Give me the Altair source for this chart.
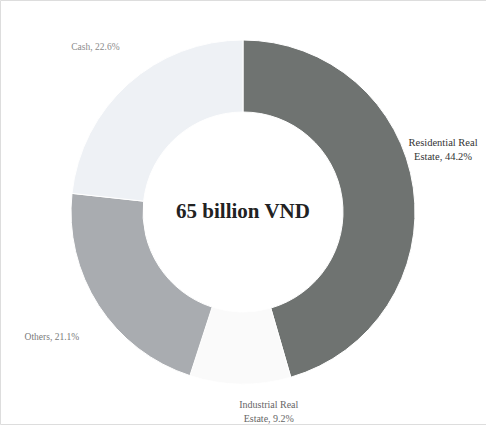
import math
import altair as alt
import pandas as pd

categories = ["Residential Real Estate", "Industrial Real Estate", "Others", "Cash"]
values = [44.2, 9.2, 21.1, 22.6]
label_lines = [
    ["Residential Real", "Estate, 44.2%"],
    ["Industrial Real", "Estate, 9.2%"],
    ["Others, 21.1%"],
    ["Cash, 22.6%"],
]
colors = ["#6f7371", "#fafafa", "#a9acb0", "#eef1f5"]
center_text = "65 billion VND"

df = pd.DataFrame({
    "category": categories,
    "value": values,
    "order": list(range(len(categories))),
    "label": label_lines,
})
total = float(sum(values))

base = alt.Chart(df).encode(
    theta=alt.Theta("value:Q", stack=True),
    order=alt.Order("order:Q"),
)

arcs = base.mark_arc(innerRadius=100, outerRadius=172, stroke="#ffffff", strokeWidth=1).encode(
    color=alt.Color("category:N", scale=alt.Scale(domain=categories, range=colors), legend=None)
)

font = "Liberation Serif"

lab_base = alt.Chart(df).transform_window(
    cum="sum(value)", sort=[alt.SortField("order")], frame=[None, 0]
).transform_calculate(
    mid="datum.cum - datum.value / 2"
)

def label_layer(cat, radius, dx, dy, color, size, weight="normal"):
    return lab_base.transform_filter(alt.datum.category == cat).mark_text(
        radius=radius, dx=dx, dy=dy, font=font, fontSize=size, color=color,
        fontWeight=weight, align="center", baseline="middle", lineHeight=14
    ).encode(
        theta=alt.Theta("mid:Q", scale=alt.Scale(domain=[0, total], range=[0, 2 * math.pi])),
        text="label",
    )

lab_res = label_layer("Residential Real Estate", 200, 2, -41, "#333333", 10.5)
lab_ind = label_layer("Industrial Real Estate", 200, 29, -7, "#666666", 10)
lab_oth = label_layer("Others", 230, 2, 0, "#7a7a7a", 9.5)
lab_cash = label_layer("Cash", 221, 0, 0, "#8a8a8a", 9.5)

center = alt.Chart(pd.DataFrame({"t": [center_text]})).mark_text(
    font=font, fontSize=21, fontWeight="bold", color="#222222"
).encode(text="t:N", x=alt.value(243), y=alt.value(212))

chart = alt.layer(arcs, lab_res, lab_ind, lab_oth, lab_cash, center).properties(
    width=486, height=424, padding={"left": 0, "top": 0, "right": 0, "bottom": 15},
    autosize="none"
).configure_view(stroke=None).configure(background="#ffffff")

chart.save("out.html", embed_options={"renderer": "svg", "actions": False})
